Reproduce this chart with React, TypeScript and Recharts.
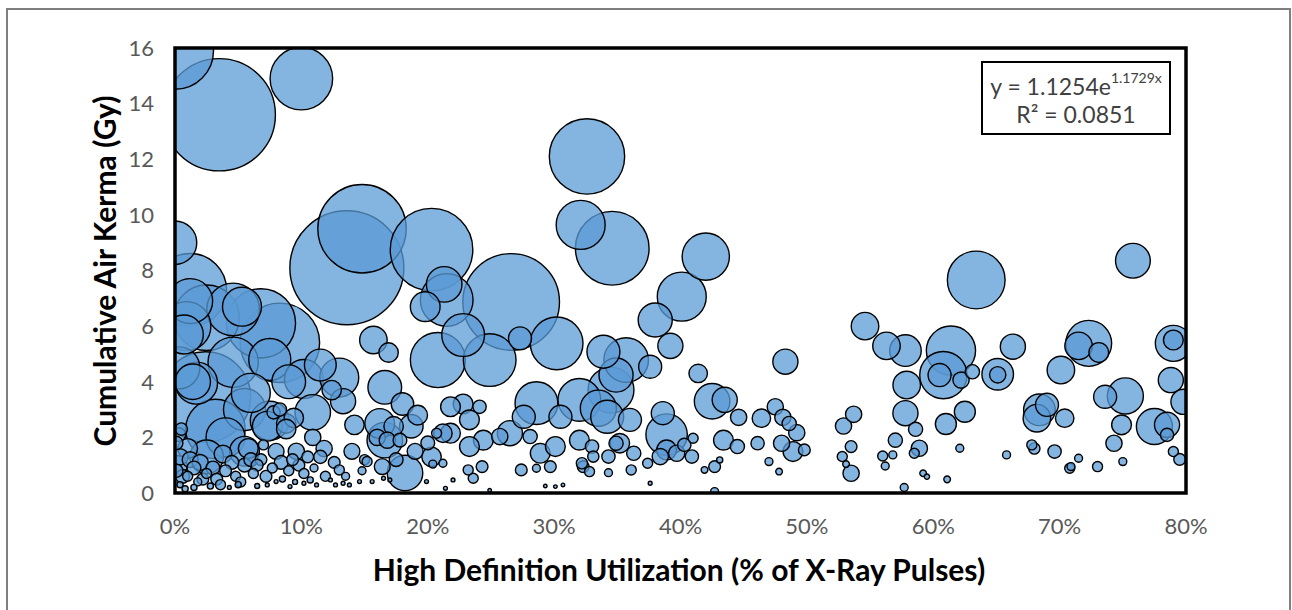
import { ScatterChart, Scatter, XAxis, YAxis, ZAxis } from 'recharts'

// [HD utilization %, cumulative air kerma Gy, bubble size]
const lowUtilization: [number, number, number][] = [
  [0, 15.9, 47], [3.5, 13.6, 100], [10.0, 14.9, 31], [14.8, 9.5, 62], [13.6, 8.1, 103],
  [0, 9.0, 15], [1.2, 7.3, 42], [0.9, 6.0, 19], [2.5, 6.3, 34], [4.6, 6.6, 22],
  [6.8, 6.1, 38], [5.3, 6.7, 12], [1.2, 6.9, 16], [0.7, 5.7, 12], [8.3, 5.4, 50],
  [7.5, 4.8, 14], [2.4, 3.45, 65], [1.7, 3.95, 14], [1.4, 4.0, 10], [10.2, 4.1, 12],
  [13.0, 4.15, 12], [12.4, 3.7, 3], [10.9, 2.9, 10], [13.3, 3.3, 5], [14.2, 2.45, 3],
  [15.7, 5.5, 6], [16.9, 5.05, 3], [16.6, 3.8, 9], [16.6, 1.9, 10], [16.2, 2.5, 7],
  [17.3, 2.4, 3], [18.7, 2.4, 4.4], [18.2, 0.72, 10], [16.4, 0.95, 2], [15.0, 1.2, 0.8],
  [14.0, 1.5, 2], [13.0, 0.83, 0.8], [11.9, 0.6, 0.8], [10.7, 0.47, 0.3], [20.3, 1.3, 3],
  [20.0, 1.8, 1.5], [20.7, 2.15, 0.8], [7.3, 2.4, 7], [8.8, 2.5, 3], [7.8, 2.9, 1.4],
  [7.0, 1.73, 0.8], [9.6, 1.5, 2.1], [10.9, 2.0, 2.1], [11.5, 1.3, 1.4], [15.2, 1.13, 0.8],
  [16.0, 2.0, 2.1], [16.8, 1.9, 2.1], [7.5, 2.6, 12], [8.3, 3.0, 1.4], [9.4, 2.7, 3],
  [8.8, 2.3, 3], [0.1, 1.8, 1.4], [0.4, 1.3, 2.1], [0.1, 0.8, 1.4], [0.2, 1.0, 3],
  [0.3, 2.1, 1.5], [0.5, 2.3, 1.2], [1.0, 1.6, 3.1], [0.6, 0.6, 1.5], [1.2, 1.2, 2],
  [4.0, 2.0, 12], [5.5, 1.5, 7], [2.5, 1.3, 9], [6.0, 3.6, 12], [4.6, 4.7, 20],
  [3.2, 2.3, 28], [5.5, 3.0, 14], [0.3, 4.5, 14], [9.0, 4.0, 9], [11.5, 4.6, 8],
  [1.0, 0.6, 0.8], [1.8, 0.4, 0.5], [2.5, 0.7, 0.8], [3.3, 0.5, 1.1], [4.0, 0.8, 1.1],
  [4.8, 0.6, 0.8], [5.5, 1.0, 1.5], [6.2, 0.7, 0.8], [6.8, 1.2, 1.1], [7.7, 0.9, 0.8],
  [8.4, 1.1, 1.5], [9.0, 0.8, 0.8], [9.8, 1.0, 1.1], [10.5, 1.3, 1.1], [2.0, 1.1, 2],
  [3.8, 1.4, 2.5], [5.8, 1.6, 3.1], [0.4, 0.3, 0.3], [0.8, 0.15, 0.3], [1.5, 0.2, 0.3],
  [2.8, 0.25, 0.3], [4.3, 0.2, 0.12], [5.0, 0.3, 0.3], [6.5, 0.25, 0.2], [8.5, 0.5, 0.3],
  [9.5, 0.4, 0.2], [11.0, 0.9, 0.5], [3.0, 0.9, 1.5], [6.5, 1.0, 1.1],
  [1.5, 0.9, 1.5], [2.2, 0.5, 1.1], [3.6, 0.3, 0.8], [4.5, 1.1, 1.5], [5.2, 0.4, 0.8],
  [6.0, 1.2, 1.5], [7.2, 0.6, 1.1], [8.0, 1.5, 2], [9.3, 1.2, 1.1], [10.2, 0.7, 0.8],
  [11.8, 1.6, 2.1], [12.6, 1.1, 1.1], [13.5, 0.6, 0.5], [14.8, 0.8, 0.5], [17.5, 1.2, 1.5],
  [19.0, 1.5, 2], [17.8, 1.9, 1.5], [19.2, 2.8, 3.1], [18.0, 3.2, 4],
  [7.3, 0.29, 0.12], [8.0, 0.41, 0.12], [9.1, 0.23, 0.12], [10.2, 0.35, 0.12], [11.2, 0.29, 0.12],
  [12.3, 0.47, 0.12], [12.7, 0.29, 0.12], [13.3, 0.35, 0.12], [13.8, 0.29, 0.12], [14.6, 0.41, 0.12],
  [15.6, 0.41, 0.12], [16.5, 0.53, 0.12], [17.0, 0.47, 0.12], [19.9, 0.41, 0.12],
]

const midUtilization: [number, number, number][] = [
  [20.3, 8.75, 54], [21.3, 7.5, 10], [21.5, 6.94, 22], [19.8, 6.7, 7], [20.8, 4.78, 24],
  [22.8, 5.68, 14.5], [24.9, 4.78, 22], [26.6, 6.87, 74], [27.3, 5.56, 4.2], [30.2, 5.38, 22],
  [32.6, 12.1, 45], [32.1, 9.64, 19], [34.6, 8.8, 43], [42.0, 8.5, 17.7], [40.1, 7.06, 19],
  [38.0, 6.22, 9.2], [39.2, 5.29, 5], [41.4, 4.3, 2.7], [33.9, 5.08, 8.6], [35.7, 4.78, 15.8],
  [34.9, 4.24, 9.2], [37.6, 4.54, 4.2], [34.5, 3.7, 16.7], [28.6, 3.23, 14.5], [32.0, 3.35, 14.5],
  [33.5, 3.05, 10.3], [34.2, 2.74, 8.6], [36.0, 2.63, 4.2], [38.6, 2.87, 4.2], [38.9, 2.1, 13.6],
  [27.6, 2.74, 4.2], [30.5, 2.74, 4.2], [26.5, 2.15, 5], [25.7, 2.03, 2.1], [24.4, 1.9, 3.1],
  [23.3, 1.67, 3.1], [22.8, 3.2, 3.1], [21.8, 3.1, 3.1], [23.3, 2.63, 3.1], [24.1, 3.1, 1.4],
  [21.8, 2.15, 3.1], [28.1, 2.03, 1.6], [28.9, 1.43, 3.1], [30.1, 1.67, 3.1], [32.0, 1.9, 3.1],
  [33.0, 1.67, 1.4], [34.9, 1.79, 1.6], [36.3, 1.43, 1.6], [34.3, 1.31, 1.4], [33.1, 1.31, 1.0],
  [29.7, 0.95, 1.1], [27.4, 0.83, 1.1], [28.6, 0.89, 0.5], [32.3, 0.95, 1.1], [32.8, 0.77, 0.8],
  [34.3, 0.73, 0.5], [36.1, 0.83, 0.8], [37.4, 1.07, 0.8], [38.4, 1.31, 2.1], [38.9, 1.55, 3.1],
  [39.7, 1.43, 2.1], [40.9, 1.31, 1.4], [40.3, 1.73, 1.4], [41.0, 1.97, 0.8], [42.5, 3.3, 10],
  [43.5, 3.35, 5], [41.9, 0.83, 0.35], [42.7, 0.05, 0.5], [42.7, 0.95, 1.1], [37.6, 0.35, 0.12],
  [22.0, 0.47, 0.12], [21.4, 0.17, 0.12], [21.2, 1.07, 0.5], [23.6, 0.53, 0.8], [23.2, 0.83, 0.8],
  [24.3, 0.95, 1.1], [24.9, 0.1, 0.1], [29.3, 0.25, 0.1], [30.1, 0.23, 0.1], [30.7, 0.29, 0.1],
  [32.2, 1.07, 1.0], [35.2, 1.79, 3.0], [20.4, 1.04, 0.5], [21.2, 2.15, 2.7], [43.4, 1.9, 3.1],
]

const highUtilization: [number, number, number][] = [
  [48.3, 4.72, 5], [44.6, 2.72, 2.1], [46.4, 2.69, 2.7], [47.5, 3.1, 2.1], [48.1, 2.72, 2.1],
  [48.6, 2.5, 1.6], [49.2, 2.17, 2.1], [44.5, 1.67, 1.6], [46.1, 1.79, 1.4], [48.0, 1.79, 2.1],
  [48.9, 1.49, 3.1], [49.8, 1.55, 1.1], [47.0, 1.13, 0.5], [47.8, 0.77, 0.35], [43.1, 1.19, 0.3],
  [52.9, 2.41, 2.1], [53.7, 2.83, 2.1], [53.5, 1.67, 1.1], [52.8, 1.31, 0.8], [53.1, 1.04, 0.35],
  [53.5, 0.71, 2.1], [54.6, 6.0, 6], [56.3, 5.29, 6], [57.8, 5.12, 7.9], [61.4, 5.12, 19.2],
  [60.8, 4.24, 17.7], [60.5, 4.24, 4.2], [62.2, 4.06, 2.1], [63.1, 4.36, 1.6], [63.4, 7.66, 26.4],
  [75.8, 8.35, 9.6], [66.3, 5.26, 5], [65.1, 4.27, 7.9], [65.1, 4.25, 2.1], [57.9, 3.88, 6],
  [57.8, 2.87, 5], [58.6, 2.29, 1.6], [57.0, 1.9, 1.6], [58.9, 1.61, 2.1], [58.5, 1.43, 0.8],
  [62.5, 2.92, 3.5], [61.0, 2.48, 3.5], [62.1, 1.61, 0.5], [59.2, 0.71, 0.35], [59.5, 0.59, 0.22],
  [57.7, 0.2, 0.5], [61.1, 0.49, 0.35], [65.8, 1.37, 0.5], [56.0, 1.33, 0.8], [56.8, 1.37, 0.5],
  [56.2, 0.97, 0.5], [68.4, 2.99, 7.9], [69.0, 3.17, 4.2], [68.2, 2.69, 6], [70.4, 2.69, 2.7],
  [70.1, 4.42, 6], [72.3, 5.38, 16.7], [71.5, 5.29, 6], [73.1, 5.05, 3.1], [73.6, 3.46, 4.2],
  [75.2, 3.49, 10.3], [74.9, 2.45, 3.1], [74.3, 1.79, 2.1], [75.0, 1.13, 0.5], [73.0, 0.95, 0.8],
  [71.5, 1.25, 0.5], [70.8, 0.89, 0.8], [69.6, 1.49, 1.4], [67.8, 1.73, 0.8], [68.0, 1.6, 1.0],
  [77.5, 2.39, 10.3], [78.5, 2.45, 5], [78.5, 2.09, 1.4], [78.8, 4.06, 5], [79.8, 3.28, 5],
  [79.0, 5.38, 10.3], [79.0, 5.5, 3.1], [79.0, 1.49, 0.8], [79.5, 1.21, 1.1], [70.9, 0.95, 0.5],
]

const xTicks = [0, 10, 20, 30, 40, 50, 60, 70, 80]
const yTicks = [0, 2, 4, 6, 8, 10, 12, 14, 16]

const xTitle = 'High Definition Utilization (% of X-Ray Pulses)'
const yTitle = 'Cumulative Air Kerma (Gy)'
const fitEquation = 'y = 1.1254e'
const fitExponent = '1.1729x'
const fitR2 = 'R² = 0.0851'

const data = [...lowUtilization, ...midUtilization, ...highUtilization]
  .map(([utilization, kerma, size]) => ({ utilization, kerma, size }))
  .sort((a, b) => b.size - a.size)

const FONT = 'Lato, "Open Sans", sans-serif'

export default function App() {
  return (
    <div style={{ position: 'absolute', left: 0, top: 0, width: 1292, height: 610, background: '#fff', fontFamily: FONT }}>
      <ScatterChart width={1292} height={610} margin={{ top: 48, right: 106, bottom: 87, left: 115 }}>
        <XAxis
          type="number"
          dataKey="utilization"
          domain={[0, 80]}
          ticks={xTicks}
          allowDataOverflow
          tickFormatter={(v) => `${v}%`}
          tick={{ fontSize: 22, fill: '#595959', fontFamily: FONT }}
          tickLine={false}
          tickSize={0}
          tickMargin={25}
          axisLine={false}
          height={30}
        />
        <YAxis
          type="number"
          dataKey="kerma"
          domain={[0, 16]}
          ticks={yTicks}
          allowDataOverflow
          tick={{ fontSize: 22, fill: '#595959', fontFamily: FONT }}
          tickLine={false}
          tickSize={0}
          tickMargin={21}
          axisLine={false}
          width={60}
        />
        <ZAxis type="number" dataKey="size" domain={[0, 100]} range={[0, 10210]} />
        <Scatter
          data={data}
          fill="#5B9BD5"
          fillOpacity={0.75}
          stroke="#000"
          strokeWidth={1.4}
          isAnimationActive={false}
        />
      </ScatterChart>
      <svg width={1292} height={610} style={{ position: 'absolute', left: 0, top: 0, pointerEvents: 'none' }}>
        <rect x={7} y={9} width={1283} height={640} fill="none" stroke="#7f7f7f" strokeWidth={2} />
        <rect x={175} y={48} width={1011} height={445} fill="none" stroke="#000" strokeWidth={3.5} />
        <rect x={982} y={62} width={188} height={72} fill="#fff" stroke="#000" strokeWidth={2} />
        <text x={1076} y={95} textAnchor="middle" fontSize={23} fill="#404040" fontFamily={FONT}>
          {fitEquation}
          <tspan fontSize={14} dy={-12}>{fitExponent}</tspan>
        </text>
        <text x={1076} y={123} textAnchor="middle" fontSize={23} fill="#404040" fontFamily={FONT}>
          {fitR2}
        </text>
        <text x={679} y={581} textAnchor="middle" fontSize={30} fontWeight="bold" fill="#000" fontFamily={FONT}>
          {xTitle}
        </text>
        <text
          x={116}
          y={271}
          textAnchor="middle"
          fontSize={30}
          fontWeight="bold"
          fill="#000"
          fontFamily={FONT}
          transform="rotate(-90 116 271)"
        >
          {yTitle}
        </text>
      </svg>
    </div>
  )
}
